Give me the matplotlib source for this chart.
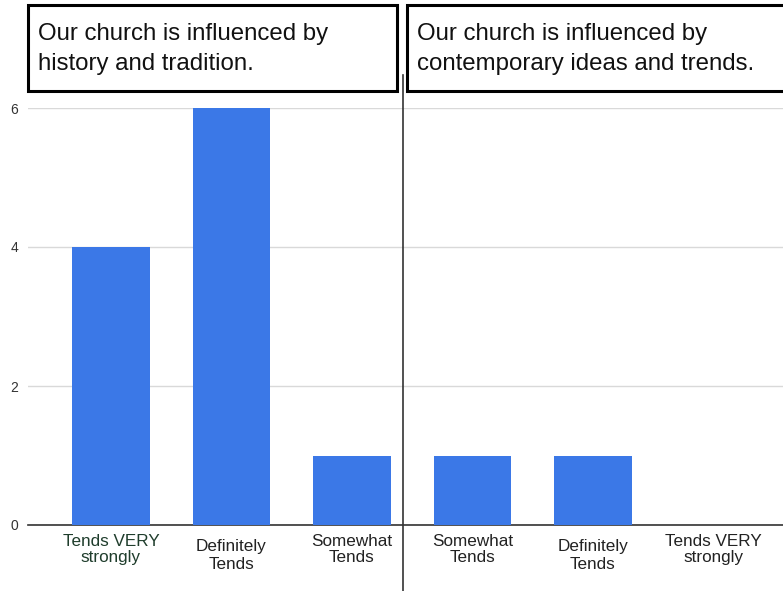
import numpy as np
import matplotlib.pyplot as plt
from matplotlib.patches import Rectangle
from matplotlib.transforms import blended_transform_factory

plt.rcParams['font.family'] = ['Liberation Sans', 'DejaVu Sans']

# data
categories = ['Tends VERY\nstrongly', 'Definitely\nTends', 'Somewhat\nTends',
              'Somewhat\nTends', 'Definitely\nTends', 'Tends VERY\nstrongly']
values = [4, 6, 1, 1, 1, 0]
yticks = [0, 2, 4, 6]
titles = ['Our church is influenced by\nhistory and tradition.',
          'Our church is influenced by\ncontemporary ideas and trends.']

W, H = 783, 591
fig = plt.figure(figsize=(W/100, H/100), dpi=100)
ax = fig.add_axes([28/W, 66/H, (W-28)/W, (525-108)/H])

x = np.arange(len(values))
ax.bar(x, values, width=0.645, color='#3b78e7', zorder=3)
ax.set_xlim(-0.688, 5.577)
ax.set_ylim(0, 6)
ax.set_yticks(yticks)
ax.yaxis.grid(True, color='#d9d9d9', linewidth=1, zorder=0)
for s in ['top', 'right', 'left']:
    ax.spines[s].set_visible(False)
ax.spines['bottom'].set_color('#333333')
ax.spines['bottom'].set_linewidth(1.2)
ax.tick_params(axis='y', length=0, labelsize=10, labelcolor='#333333', pad=7)
ax.tick_params(axis='x', length=0)
ax.set_xticks([])

# category labels, "Definitely Tends" sits a bit lower
tr = blended_transform_factory(ax.transData, ax.transAxes)
for i, lab in enumerate(categories):
    if lab.startswith('Definitely'):
        dy, ls = -0.034, 1.27
    else:
        dy, ls = -0.022, 1.08
    col = '#1f3d2c' if i == 0 else '#222222'
    ax.text(i, dy, lab, transform=tr, ha='center', va='top', fontsize=12.3,
            color=col, linespacing=ls)

# divider between the two groups
fig.add_artist(plt.Line2D([403/W, 403/W], [0, 1 - 75/H], color='#333333', linewidth=1.2))

# title boxes
boxes = [(28, 397), (407, 790)]
for (x0, x1), t in zip(boxes, titles):
    fig.add_artist(Rectangle((x0/W, 1 - 91/H), (x1-x0)/W, 86/H, transform=fig.transFigure,
                             facecolor='white', edgecolor='black', linewidth=2.2))
    fig.text((x0 + 10)/W, 1 - 49/H, t, ha='left', va='center', fontsize=17.3,
             color='#111111', linespacing=1.42)

fig.savefig('out.png', dpi=100)
